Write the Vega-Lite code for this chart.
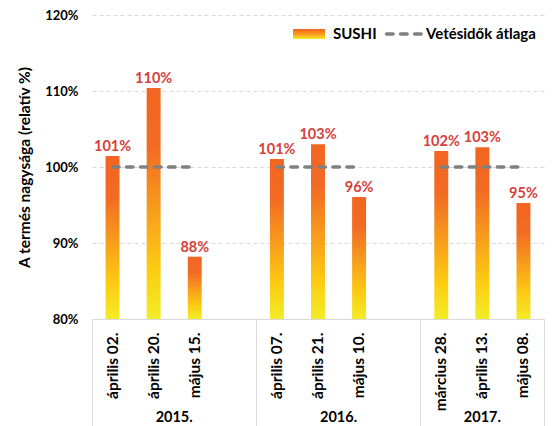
{
  "$schema": "https://vega.github.io/schema/vega-lite/v6.json",
  "width": 452,
  "height": 304,
  "autosize": {"type": "none"},
  "padding": {"left": 92, "top": 15, "right": 13, "bottom": 107},
  "background": "white",
  "config": {"font": "Lato", "view": {"stroke": null}},
  "data": {"values": [
    {"year": "2015.", "date": "április 02.", "value": 1.0145, "atlag": 1},
    {"year": "2015.", "date": "április 20.", "value": 1.104, "atlag": 1},
    {"year": "2015.", "date": "május 15.", "value": 0.882, "atlag": 1},
    {"year": "2016.", "date": "április 07.", "value": 1.0105, "atlag": 1},
    {"year": "2016.", "date": "április 21.", "value": 1.03, "atlag": 1},
    {"year": "2016.", "date": "május 10.", "value": 0.9605, "atlag": 1},
    {"year": "2017.", "date": "március 28.", "value": 1.021, "atlag": 1},
    {"year": "2017.", "date": "április 13.", "value": 1.026, "atlag": 1},
    {"year": "2017.", "date": "május 08.", "value": 0.9526, "atlag": 1}
  ]},
  "encoding": {
    "x": {
      "field": "date",
      "type": "nominal",
      "scale": {
        "domain": ["április 02.", "április 20.", "május 15.", " ", "április 07.", "április 21.", "május 10.", "  ", "március 28.", "április 13.", "május 08."],
        "paddingInner": 0,
        "paddingOuter": 0
      },
      "axis": {
        "title": null,
        "grid": false,
        "labelAngle": -90,
        "labelAlign": "right",
        "labelBaseline": "middle",
        "labelFontWeight": "bold",
        "labelFontSize": 15.5,
        "labelColor": "black",
        "labelPadding": -94,
        "domainColor": "#d9d9d9",
        "domainWidth": 1,
        "ticks": true,
        "tickSize": 107,
        "tickWidth": 1,
        "bandPosition": 1,
        "tickExtra": true,
        "tickColor": {"condition": {"test": "datum.value == null || datum.value == ' ' || datum.value == '  ' || datum.value == 'május 08.'", "value": "#d9d9d9"}, "value": "transparent"}
      }
    }
  },
  "layer": [
    {
      "mark": {
        "type": "bar",
        "width": {"band": 0.34},
        "color": {"gradient": "linear", "x1": 0, "y1": 0, "x2": 0, "y2": 1, "stops": [
          {"offset": 0, "color": "#f26522"},
          {"offset": 0.25, "color": "#f26b23"},
          {"offset": 0.5, "color": "#f7981d"},
          {"offset": 0.78, "color": "#fccb12"},
          {"offset": 1, "color": "#f3ec27"}
        ]}
      },
      "encoding": {
        "y": {
          "field": "value",
          "type": "quantitative",
          "title": "A termés nagysága (relatív %)",
          "scale": {"domain": [0.8, 1.2], "zero": false, "nice": false},
          "axis": {
            "values": [0.8, 0.9, 1, 1.1, 1.2],
            "format": ".0%",
            "titleFontSize": 15.5,
            "titleFontWeight": "bold",
            "titleColor": "black",
            "titlePadding": 12,
            "labelFontWeight": "bold",
            "labelFontSize": 13,
            "labelColor": "black",
            "labelPadding": 14,
            "domain": false,
            "ticks": false,
            "gridColor": "#d9d9d9",
            "gridDash": [4, 3],
            "gridWidth": 1
          }
        },
        "y2": {"datum": 0.8}
      }
    },
    {
      "mark": {"type": "line", "strokeWidth": 3.5, "strokeDash": [6.5, 7.5], "strokeCap": "round"},
      "encoding": {
        "y": {"field": "atlag", "type": "quantitative", "title": "A termés nagysága (relatív %)"},
        "detail": {"field": "year"},
        "color": {
          "datum": "Vetésidők átlaga",
          "type": "nominal",
          "scale": {"domain": ["SUSHI", "Vetésidők átlaga"], "range": ["#f26522", "#808080"]},
          "legend": {
            "title": null,
            "orient": "none",
            "legendX": 199,
            "legendY": 1,
            "direction": "horizontal",
            "padding": 0,
            "labelFontSize": 15,
            "labelFontWeight": "bold",
            "labelColor": "black",
            "labelOffset": 6,
            "columnPadding": 2,
            "symbolSize": 1024,
            "encode": {
              "labels": {
                "update": {
                  "dx": {"signal": "datum.value === 'SUSHI' ? 0 : -3"}
                }
              },
              "symbols": {
                "update": {
                  "shape": {"signal": "datum.value === 'SUSHI' ? 'M-1,-0.3125H1V0.3125H-1Z' : 'M-1.15,0H1.15'"},
                  "size": {"value": 1024},
                  "fill": {"value": {"gradient": "linear", "x1": 0, "y1": 0, "x2": 0, "y2": 1, "stops": [
                    {"offset": 0, "color": "#f26522"},
                    {"offset": 0.5, "color": "#f7981d"},
                    {"offset": 1, "color": "#f3ec27"}
                  ]}},
                  "stroke": {"value": "#808080"},
                  "strokeWidth": {"value": 3.5},
                  "strokeOpacity": {"signal": "datum.value === 'SUSHI' ? 0 : 1"},
                  "strokeDash": {"signal": "datum.value === 'SUSHI' ? [] : [6.5, 7.5]"},
                  "strokeCap": {"value": "round"},
                  "opacity": {"value": 1}
                }
              }
            }
          }
        }
      }
    },
    {
      "mark": {"type": "text", "baseline": "alphabetic", "dy": -5, "fontWeight": "bold", "fontSize": 14.5, "color": "#d6403a"},
      "encoding": {
        "y": {"field": "value", "type": "quantitative", "title": "A termés nagysága (relatív %)"},
        "text": {"field": "value", "format": ".0%"}
      }
    },
    {
      "transform": [{"filter": "datum.date == 'április 20.' || datum.date == 'április 21.'"}],
      "mark": {"type": "text", "baseline": "middle", "dy": 99, "fontWeight": "bold", "fontSize": 14.5, "color": "black"},
      "encoding": {
        "x": {"field": "date", "type": "nominal", "bandPosition": 1},
        "y": {"datum": 0.8, "type": "quantitative"},
        "text": {"field": "year"}
      }
    },
    {
      "transform": [{"filter": "datum.date == 'április 13.'"}],
      "mark": {"type": "text", "baseline": "middle", "dy": 99, "fontWeight": "bold", "fontSize": 14.5, "color": "black"},
      "encoding": {
        "x": {"field": "date", "type": "nominal"},
        "y": {"datum": 0.8, "type": "quantitative"},
        "text": {"field": "year"}
      }
    }
  ]
}
